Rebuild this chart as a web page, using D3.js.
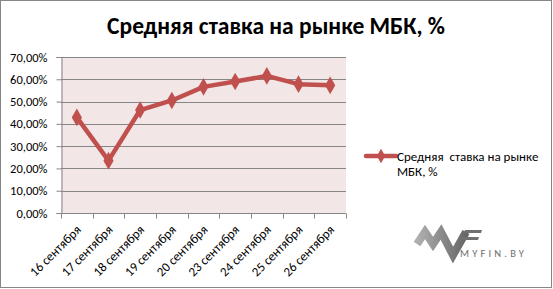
<!DOCTYPE html>
<html>
<head>
<meta charset="utf-8">
<script src="https://cdn.jsdelivr.net/npm/d3@7"></script>
<style>
  body { margin: 0; background: #fff; }
  svg text { font-family: Carlito, "Liberation Sans", "DejaVu Sans", sans-serif; }
</style>
</head>
<body>
<svg id="chart" width="553" height="289"></svg>
<script>
// chart data
const categories = ['16 сентября', '17 сентября', '18 сентября', '19 сентября', '20 сентября',
    '23 сентября', '24 сентября', '25 сентября', '26 сентября']
const rates = [42.9, 23.5, 46.2, 50.5, 56.6, 59.0, 61.5, 57.8, 57.3]
const yTicks = [0, 10, 20, 30, 40, 50, 60, 70]
const seriesName = ['Средняя  ставка на рынке', 'МБК, %']
const title = 'Средняя ставка на рынке МБК, %'

const W = 553, H = 289
const plot = {left: 61, right: 346, top: 57, bottom: 213}
const red = '#c0504d'

let svg = d3.select('#chart')

// outer frame
svg.append('rect')
    .attr('x', 0.5).attr('y', 0.5)
    .attr('width', W - 2).attr('height', H - 2)
    .attr('fill', '#fff').attr('stroke', '#868686')

svg.append('text')
    .attr('x', 276).attr('y', 34)
    .attr('text-anchor', 'middle')
    .attr('font-size', 23.5).attr('font-weight', 'bold')
    .attr('fill', '#000')
    .text(title)

let x = d3.scaleBand().domain(categories).range([plot.left, plot.right])
let y = d3.scaleLinear().domain([0, 70]).range([plot.bottom, plot.top])

svg.append('rect')
    .attr('x', plot.left).attr('y', plot.top)
    .attr('width', plot.right - plot.left).attr('height', plot.bottom - plot.top)
    .attr('fill', '#f2e6e6')

// gridlines
svg.append('g').selectAll('line').data(yTicks.slice(1)).enter().append('line')
    .attr('x1', plot.left).attr('x2', plot.right)
    .attr('y1', d => Math.round(y(d)) + 0.5).attr('y2', d => Math.round(y(d)) + 0.5)
    .attr('stroke', '#868686')

// y axis
let yAxis = svg.append('g')
    .attr('transform', `translate(${plot.left + 0.5},0)`)
    .call(d3.axisLeft(y).tickValues(yTicks).tickSize(5).tickPadding(9)
        .tickFormat(d => d3.format('.2f')(d).replace('.', ',') + '%'))
yAxis.select('.domain').attr('stroke', '#868686')
yAxis.selectAll('.tick line').attr('stroke', '#868686')
yAxis.selectAll('text').attr('font-size', 12.5).attr('fill', '#000')

// x axis with ticks at band edges
let xAxisG = svg.append('g').attr('transform', `translate(0,${Math.round(plot.bottom) + 0.5})`)
xAxisG.append('line')
    .attr('x1', plot.left).attr('x2', plot.right)
    .attr('stroke', '#868686')
let edges = categories.map(c => x(c)).concat([plot.right])
xAxisG.selectAll('line.tk').data(edges).enter().append('line')
    .attr('class', 'tk')
    .attr('x1', d => Math.round(d) + 0.5).attr('x2', d => Math.round(d) + 0.5)
    .attr('y1', 0).attr('y2', 5)
    .attr('stroke', '#868686')
xAxisG.selectAll('text').data(categories).enter().append('text')
    .attr('transform', d => `translate(${x(d) + x.bandwidth() / 2 + 5},${17}) rotate(-45)`)
    .attr('text-anchor', 'end')
    .attr('font-size', 13)
    .attr('fill', '#000')
    .text(d => d)

// series line
let line = d3.line()
    .x((d, i) => x(categories[i]) + x.bandwidth() / 2)
    .y(d => y(d))
svg.append('path')
    .datum(rates)
    .attr('d', line)
    .attr('fill', 'none')
    .attr('stroke', red).attr('stroke-width', 4.5)
    .attr('stroke-linejoin', 'round')

let diamond = d3.symbol().type(d3.symbolDiamond).size(90)
svg.append('g').selectAll('path').data(rates).enter().append('path')
    .attr('transform', (d, i) => `translate(${x(categories[i]) + x.bandwidth() / 2},${y(d)})`)
    .attr('d', diamond)
    .attr('fill', red)

// legend
let lg = svg.append('g').attr('transform', 'translate(366,156)')
lg.append('line')
    .attr('x1', 0).attr('x2', 30)
    .attr('stroke', red).attr('stroke-width', 4.5).attr('stroke-linecap', 'round')
lg.append('path')
    .attr('transform', 'translate(15,0)')
    .attr('d', d3.symbol().type(d3.symbolDiamond).size(60))
    .attr('fill', red)
lg.selectAll('text').data(seriesName).enter().append('text')
    .attr('x', 31).attr('y', (d, i) => 5 + i * 15)
    .attr('font-size', 13).attr('fill', '#000')
    .style('white-space', 'pre')
    .text(d => d)

// watermark logo
let defs = svg.append('defs')
let grad = defs.append('linearGradient').attr('id', 'logoGrad')
    .attr('x1', 0).attr('x2', 1).attr('y1', 0).attr('y2', 0)
grad.append('stop').attr('offset', 0).attr('stop-color', '#b0b0b0')
grad.append('stop').attr('offset', 1).attr('stop-color', '#666')

let logo = svg.append('g').attr('transform', 'translate(413,230)')
logo.append('path')
    .attr('d', 'M4,14 L12,2 L20,14 L28,2 L40,25 L53,2')
    .attr('fill', 'none')
    .attr('stroke', 'url(#logoGrad)').attr('stroke-width', 8)
    .attr('stroke-linejoin', 'miter')
logo.append('path')
    .attr('d', 'M52,0 L69,0 L68,3 L51,3 Z M49,7 L66,7 L65,10 L48,10 Z')
    .attr('fill', '#707070')
logo.append('text')
    .attr('x', 47).attr('y', 27)
    .attr('font-size', 10.5).attr('letter-spacing', 3.2)
    .attr('font-family', '"DejaVu Sans", sans-serif')
    .attr('fill', '#707070')
    .text('MYFIN.BY')
</script>
</body>
</html>
